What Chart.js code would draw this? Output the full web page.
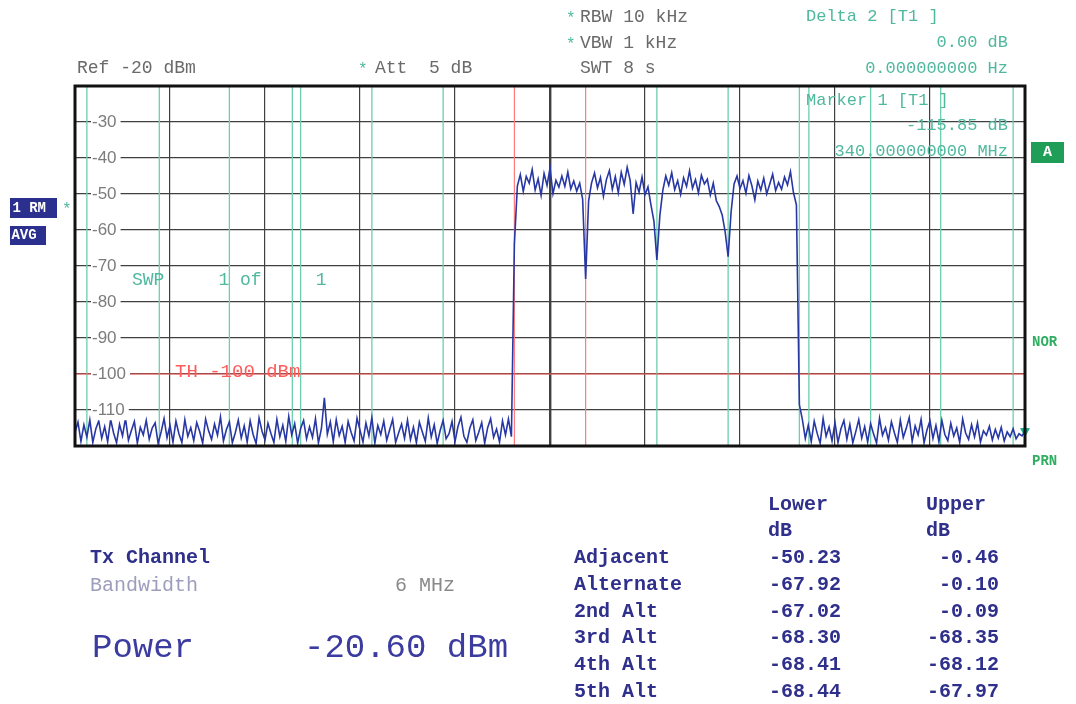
<!DOCTYPE html>
<html><head><meta charset="utf-8">
<script src="https://cdn.jsdelivr.net/npm/chart.js@4"></script>
<style>
html,body{margin:0;padding:0;background:#fff;}
#wrap{position:relative;width:1076px;height:704px;overflow:hidden;background:#fff;}
canvas{position:absolute;left:0;top:0;}
.t{position:absolute;white-space:pre;font-family:'Liberation Mono','DejaVu Sans Mono',monospace;line-height:1;}
.box{position:absolute;color:#fff;font-family:'Liberation Mono',monospace;font-weight:bold;overflow:hidden;white-space:pre;}
</style></head>
<body><div id="wrap"><canvas id="c" width="1076" height="704"></canvas></div>
<script>
// ---- sweep data (dBm), 0.25 MHz per sweep point ----
const sweepStartMHz = 260;
const sweepStepMHz = 0.25;
const lowerNoiseDbm = [
-116.2,-113.4,-118.7,-114.1,-117.5,-112.8,-119.0,-115.3,-113.0,-117.9,-114.6,-118.8,-112.6,-116.4,-119.1,-114.0,
-117.2,-112.3,-118.4,-115.7,-113.2,-119.2,-114.8,-116.9,-112.9,-118.1,-115.0,-113.6,-119.3,-116.1,-112.4,-117.7,
-114.3,-118.9,-113.1,-116.6,-119.0,-112.7,-117.3,-114.9,-118.5,-113.5,-116.0,-119.2,-112.5,-115.8,-118.2,-113.9,
-117.0,-111.9,-118.6,-115.4,-113.3,-119.1,-116.3,-112.8,-117.8,-114.4,-118.9,-113.0,-116.8,-119.3,-112.2,-115.9,
-118.3,-113.7,-116.5,-119.0,-112.6,-117.4,-114.2,-118.7,-111.8,-116.9,-113.8,-119.2,-115.1,-112.9,-118.0,-114.7,
-117.6,-112.4,-119.1,-115.2,-106.6,-116.7,-113.3,-118.8,-112.7,-117.1,-114.5,-119.0,-113.2,-116.2,-118.6,-112.3,
-115.6,-118.9,-113.6,-117.2,-112.1,-119.2,-114.3,-116.8,-113.1,-118.4,-115.5,-112.6,-119.0,-116.4,-113.9,-117.9,
-112.8,-118.2,-114.8,-119.1,-113.4,-116.1,-118.7,-112.2,-117.5,-114.1,-119.3,-115.7,-112.9,-118.0,-116.6,-113.2,
-118.8,-114.6,-112.0,-117.3,-119.0,-115.0,-112.7,-118.5,-116.2,-113.5,-119.2,-114.9,-112.4,-117.6,-115.3,-118.9,
-113.0,-116.9,-112.5,-117.4
];
const carrier1Dbm = [-64.0,
-47.8,-44.6,-49.3,-45.1,-47.0,-43.2,-48.9,-45.8,-50.4,-44.3,-47.6,-42.8,-49.9,-46.2,-48.1,-45.0,-47.9,-43.9,-48.6,-46.4,-49.2,-47.0,-51.5];
const carrier2Dbm = [-73.6,
-52.0,-46.9,-44.2,-48.3,-45.4,-50.6,-46.0,-43.5,-48.7,-45.2,-49.6,-44.0,-47.3,-42.6,-46.2,-55.5,-46.8,-49.5,-45.3,-50.2,-48.0,-53.0,-57.5];
const carrier3Dbm = [-68.3,
-56.0,-49.0,-45.0,-47.6,-44.1,-48.8,-46.3,-50.1,-45.5,-47.9,-43.6,-48.4,-46.0,-49.7,-44.8,-47.2,-45.9,-50.3,-47.0,-51.8,-53.5,-55.8,-60.5];
const carrier4Dbm = [-67.4,
-55.0,-47.2,-45.0,-48.5,-46.3,-49.8,-44.9,-47.7,-51.6,-46.4,-48.9,-45.6,-50.0,-47.3,-44.5,-49.1,-46.8,-48.7,-45.3,-47.5,-43.8,-49.6,-53.0];
const upperNoiseDbm = [-108.5,
-112.6,-117.9,-114.2,-118.8,-113.1,-116.5,-119.2,-112.4,-117.3,-114.7,-118.6,-113.5,-119.0,-115.2,-112.9,-118.1,
-114.0,-119.1,-116.0,-112.7,-117.8,-114.6,-118.9,-113.8,-116.7,-119.2,-112.3,-117.0,-114.9,-118.4,-113.3,-116.3,
-119.0,-112.8,-117.6,-115.1,-112.1,-118.7,-114.4,-116.9,-112.6,-119.1,-115.5,-113.0,-117.9,-114.3,-118.8,-112.9,
-116.8,-118.5,-113.7,-117.2,-115.0,-119.0,-112.5,-116.4,-118.2,-114.1,-117.5,-113.6,-118.9,-115.8,-117.0,-114.5,
-118.3,-115.4,-117.8,-114.8,-118.6,-116.1,-117.4,-115.2,-118.0,-116.6,-117.2,-115.85
];
// ---- channel / limit lines ----
const txChannelEdgesMHz = [297.0, 303.0];
const neighbourEdgesMHz = [261.0, 267.1, 273.0, 278.3, 279.0, 285.0, 291.0, 309.0, 315.0, 321.0, 321.8, 327.0, 332.9, 339.0];
const thresholdDbm = -100;
const markerMHz = 340;
const markerDbm = -115.85;
const spanMHz = [260, 340];
const levelRangeDbm = [-120, -20];
// ---- ACP table ----
const acpNames = ['Adjacent','Alternate','2nd Alt','3rd Alt','4th Alt','5th Alt'];
const acpLower = ['-50.23','-67.92','-67.02','-68.30','-68.41','-68.44'];
const acpUpper = ['-0.46','-0.10','-0.09','-68.35','-68.12','-67.97'];

const levels = [...lowerNoiseDbm, ...carrier1Dbm, ...carrier2Dbm, ...carrier3Dbm, ...carrier4Dbm, ...upperNoiseDbm];
const trace = levels.map((v, i) => ({x: sweepStartMHz + i * sweepStepMHz, y: v}));
const vLines = edges => edges.flatMap(f => [{x: f, y: levelRangeDbm[0]}, {x: f, y: levelRangeDbm[1]}, {x: f, y: null}]);

const TEAL = '#4fb89e';
const frame = {
  id: 'frame',
  afterDraw(chart) {
    const {ctx, chartArea: a} = chart;
    ctx.save();
    ctx.strokeStyle = '#111';
    ctx.lineWidth = 3;
    ctx.strokeRect(a.left, a.top, a.right - a.left, a.bottom - a.top);
    ctx.restore();
  }
};

new Chart(document.getElementById('c'), {
  type: 'line',
  data: {
    datasets: [
      {data: trace, borderColor: '#2737a3', borderWidth: 1.6, pointRadius: 0, tension: 0},
      {data: [{x: markerMHz, y: markerDbm}], showLine: false, pointStyle: 'triangle', rotation: 180,
       pointRadius: 5, backgroundColor: '#1aa88c', borderColor: '#1aa88c', clip: false},
      {data: [{x: spanMHz[0], y: thresholdDbm}, {x: spanMHz[1], y: thresholdDbm}], borderColor: '#ff5b5b', borderWidth: 1.2, pointRadius: 0},
      {data: vLines(txChannelEdgesMHz), borderColor: '#ff7a7a', borderWidth: 1.2, pointRadius: 0, spanGaps: false},
      {data: vLines(neighbourEdgesMHz), borderColor: '#6ccfaf', borderWidth: 1.3, pointRadius: 0, spanGaps: false}
    ]
  },
  options: {
    responsive: false,
    animation: false,
    events: [],
    layout: {padding: {left: 41, top: 86, right: 51, bottom: 258}},
    plugins: {legend: {display: false}, tooltip: {enabled: false}},
    scales: {
      x: {
        type: 'linear', min: spanMHz[0], max: spanMHz[1],
        ticks: {display: false, stepSize: 8},
        grid: {drawTicks: false, color: '#404040', lineWidth: c => (c.tick && c.tick.value === 300) ? 2.4 : 1.2},
        border: {display: false}
      },
      y: {
        min: levelRangeDbm[0], max: levelRangeDbm[1],
        ticks: {
          stepSize: 10, mirror: true, padding: 17, z: 1,
          font: {family: "'Liberation Sans', Arial, sans-serif", size: 17},
          color: '#7c7c7c',
          callback: v => (v > -120 && v < -20) ? String(v) : '',
          showLabelBackdrop: true,
          backdropColor: c => (c.tick && c.tick.value > -120 && c.tick.value < -20) ? '#ffffff' : 'rgba(0,0,0,0)',
          backdropPadding: {left: 1, right: 4, top: 0, bottom: 0}
        },
        grid: {drawTicks: false, color: '#404040', lineWidth: 1.2},
        border: {display: false}
      }
    }
  },
  plugins: [frame]
});

// ---- text overlays ----
const wrap = document.getElementById('wrap');
function put(text, x, cy, size, color, opt = {}) {
  const d = document.createElement('div');
  d.className = 't';
  d.textContent = text;
  d.style.fontSize = size + 'px';
  d.style.color = color;
  d.style.top = (cy - 0.5 * size) + 'px';
  if (opt.right) d.style.right = (1076 - x) + 'px'; else d.style.left = x + 'px';
  if (opt.bold) d.style.fontWeight = 'bold';
  wrap.appendChild(d);
}
const GRAY = '#6a6a6a', NAVY = '#2f2f8c';
put('*', 566, 19, 16, TEAL); put('RBW 10 kHz', 580, 17, 18, GRAY);
put('*', 566, 45, 16, TEAL); put('VBW 1 kHz', 580, 43, 18, GRAY);
put('SWT 8 s', 580, 68, 18, GRAY);
put('Ref -20 dBm', 77, 68, 18, GRAY);
put('*', 358, 70, 16, TEAL); put('Att  5 dB', 375, 68, 18, GRAY);
put('Delta 2 [T1 ]', 806, 16, 17, TEAL);
put('0.00 dB', 1008, 42, 17, TEAL, {right: true});
put('0.000000000 Hz', 1008, 68, 17, TEAL, {right: true});
put('Marker 1 [T1 ]', 806, 100, 17, TEAL);
put('-115.85 dB', 1008, 125, 17, TEAL, {right: true});
put('340.000000000 MHz', 1008, 151, 17, TEAL, {right: true});
put('SWP     1 of     1', 132, 280, 18, TEAL);
put('TH -100 dBm', 175, 372, 19, '#ff5b5b');
put('NOR', 1032, 342, 14, '#2fae62', {bold: true});
put('PRN', 1032, 461, 14, '#2fae62', {bold: true});
put('*', 62, 210, 16, TEAL);

function box(text, x, y, w, h, bg, size) {
  const d = document.createElement('div');
  d.className = 'box';
  d.textContent = text;
  Object.assign(d.style, {left: x + 'px', top: y + 'px', width: w + 'px', height: h + 'px', background: bg,
    fontSize: size + 'px', lineHeight: h + 'px'});
  wrap.appendChild(d);
  return d;
}
box(' 1 RM', 10, 198, 47, 20, '#2b2f8e', 14).style.textIndent = '-6px';
box(' AVG', 10, 226, 36, 19, '#2b2f8e', 14).style.textIndent = '-7px';
const a = box('A', 1031, 142, 33, 21, '#1f9e57', 15); a.style.textAlign = 'center';

put('Tx Channel', 90, 558, 20, NAVY, {bold: true});
put('Bandwidth', 90, 586, 20, '#9d9dbd');
put('6 MHz', 395, 586, 20, '#8a8a8a');
put('Power', 92, 648, 34, '#3c3ca0');
put('-20.60 dBm', 304, 648, 34, '#3c3ca0');
put('Lower', 768, 505, 20, NAVY, {bold: true});
put('Upper', 926, 505, 20, NAVY, {bold: true});
put('dB', 768, 531, 20, NAVY, {bold: true});
put('dB', 926, 531, 20, NAVY, {bold: true});
acpNames.forEach((n, i) => {
  const cy = 558 + i * 26.8;
  put(n, 574, cy, 20, NAVY, {bold: true});
  put(acpLower[i], 841, cy, 20, NAVY, {bold: true, right: true});
  put(acpUpper[i], 999, cy, 20, NAVY, {bold: true, right: true});
});
</script>
</body></html>
